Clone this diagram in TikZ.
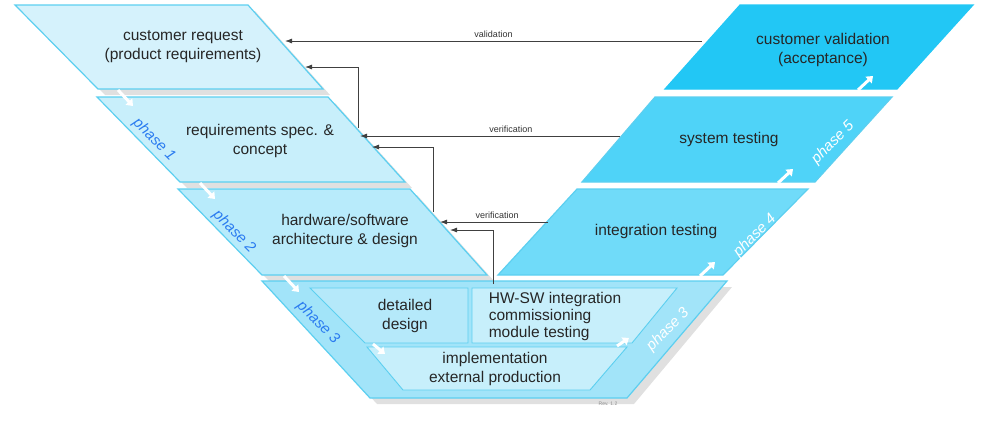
\documentclass[tikz,border=0pt]{standalone}
\usepackage{fontspec}
\setmainfont{Liberation Sans}
\usetikzlibrary{arrows.meta}
\definecolor{bd}{HTML}{5CCFF0}
\definecolor{c1}{HTML}{D5F2FC}
\definecolor{c2}{HTML}{C8EFFB}
\definecolor{c3}{HTML}{B8EBFB}
\definecolor{c4}{HTML}{A2E4F9}
\definecolor{r1}{HTML}{22C7F5}
\definecolor{r2}{HTML}{4FD3F8}
\definecolor{r3}{HTML}{70DBF9}
\definecolor{ph}{HTML}{2A7BF0}
\tikzset{
 pbox/.style={draw=bd,line width=1.2pt},
 txt/.style={font=\fontsize{15.5}{19}\selectfont,align=center,text=black!85},
 lbl/.style={font=\fontsize{9}{10}\selectfont,text=black!80},
 conn/.style={draw=black!75,line width=0.8pt,-{Latex[length=7pt,width=5pt]}},
 phl/.style={font=\itshape\fontsize{15}{17}\selectfont},
 chev/.style={draw=white,line width=3pt,-{Triangle[length=6pt,width=9pt]}},
 shadow/.style={fill=black!12},
}
\begin{document}
\begin{tikzpicture}[x=1pt,y=-1pt]
\useasboundingbox (0,0) rectangle (984,426);
% shadows
\fill[shadow] (22,11)--(255,11)--(330,95)--(105,95)--cycle;
\fill[shadow] (104,103)--(335,103)--(412,188)--(187,188)--cycle;
\fill[shadow] (185,195)--(417,195)--(494,281)--(269,281)--cycle;
\fill[shadow] (269,287)--(732,287)--(634,404)--(377,404)--cycle;
% left boxes
\draw[pbox,fill=c1] (15,5)--(248,5)--(323,89)--(98,89)--cycle;
\draw[pbox,fill=c2] (97,97)--(328,97)--(405,182)--(180,182)--cycle;
\draw[pbox,fill=c3] (178,189)--(410,189)--(487,275)--(262,275)--cycle;
\draw[pbox,fill=c4] (262,281)--(727,281)--(627,398)--(370,398)--cycle;
% inner boxes
\draw[pbox,fill=c4!80!white,line width=0.9pt] (310,288)--(468,288)--(468,343)--(365,343)--cycle;
\draw[pbox,fill=c4!60!white,line width=0.9pt] (472,288)--(677,288)--(632,343)--(472,343)--cycle;
\draw[pbox,fill=c4!60!white,line width=0.9pt] (367,347)--(627,347)--(590,390)--(403,390)--cycle;
% right boxes
\draw[pbox,draw=r1,fill=r1] (740,5)--(973,5)--(897,89)--(665,89)--cycle;
\draw[pbox,fill=r2] (655,97)--(892,97)--(815,182)--(582,182)--cycle;
\draw[pbox,fill=r3] (577,189)--(808,189)--(723,275)--(498,275)--cycle;
% chevrons
\draw[chev] (118,90)--(133,106);
\draw[chev] (200,183)--(215,199);
\draw[chev] (284,276)--(299,292);
\draw[chev] (373,344)--(385,354);
\draw[chev] (617,346)--(629,338);
\draw[chev] (700,276)--(715,262);
\draw[chev] (778,183)--(793,169);
\draw[chev] (858,90)--(873,76);
% texts
\node[txt] (cr) at (183,47) {customer request\\(product requirements)};
\node[txt] (rs) at (260,141) {requirements spec. \&\\concept};
\node[txt] (hw) at (345,231) {hardware/software\\architecture \& design};
\node[txt] (dd) at (405,316) {detailed\\design};
\node[txt,align=left,font=\fontsize{15.5}{17}\selectfont] (hs) at (555,316) {HW-SW integration\\commissioning\\module testing};
\node[txt] (im) at (495,369) {implementation\\external production};
\node[txt] (cv) at (823,50) {customer validation\\(acceptance)};
\node[txt] (st) at (729,139) {system testing};
\node[txt] (it) at (656,231) {integration testing};
% phase labels
\node[phl,text=ph,rotate=-45] (p1) at (154,140) {phase 1};
\node[phl,text=ph,rotate=-45] (p2) at (234,232) {phase 2};
\node[phl,text=ph,rotate=-45] (p3) at (318,323) {phase 3};
\node[phl,text=white,rotate=45] (p3r) at (668,330) {phase 3};
\node[phl,text=white,rotate=45] (p4) at (755,236) {phase 4};
\node[phl,text=white,rotate=45] (p5) at (833,143) {phase 5};
\node[font=\fontsize{5}{6}\selectfont,text=black!45] (rev) at (608,404) {Rev. 1.2};
% connectors
\coordinate (v1s) at (702,41); \coordinate (v1e) at (285,41);
\draw[conn] (v1s) -- node[lbl,above=0pt] (vl) {validation} (v1e);
\coordinate (v2s) at (620,136); \coordinate (v2e) at (360,136);
\draw[conn] (v2s) -- node[lbl,above=0pt,pos=0.42] (vf1) {verification} (v2e);
\coordinate (v3s) at (548,222); \coordinate (v3e) at (440,222);
\draw[conn] (v3s) -- node[lbl,above=0pt,pos=0.47] (vf2) {verification} (v3e);
\coordinate (a1s) at (358,128); \coordinate (a1e) at (305,67);
\draw[conn] (a1s) |- (a1e);
\coordinate (a2s) at (433,212); \coordinate (a2e) at (372,147);
\draw[conn] (a2s) |- (a2e);
\coordinate (a3s) at (493,284); \coordinate (a3e) at (450,230);
\draw[conn] (a3s) |- (a3e);
\end{tikzpicture}
\end{document}
